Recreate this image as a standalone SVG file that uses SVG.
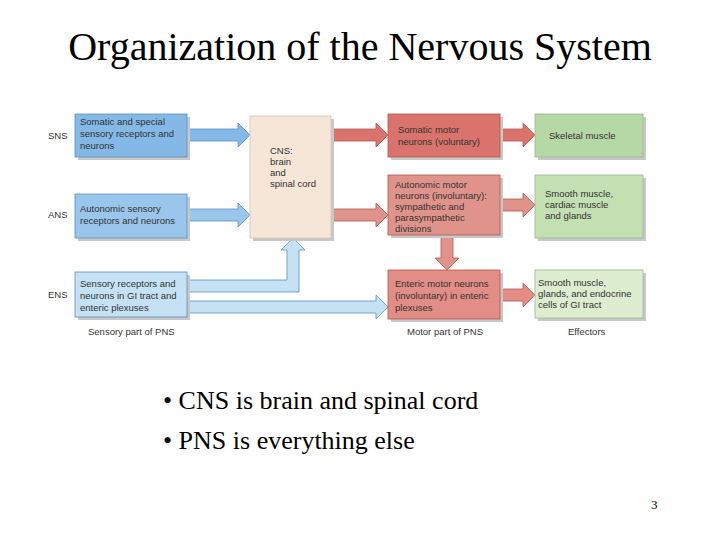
<svg xmlns="http://www.w3.org/2000/svg" width="720" height="540" viewBox="0 0 720 540">
<style>
.t{font-family:"Liberation Sans",Arial,sans-serif;font-size:9.5px;fill:#333}
.lbl{font-family:"Liberation Sans",Arial,sans-serif;font-size:9.5px;fill:#333}
.sh{fill:#c8c8c8}
.bl{stroke:#5b8fc0;stroke-width:0.8}
.rd{stroke:#b55550;stroke-width:0.8}
.gr{stroke:#9ab88a;stroke-width:0.8}
.big{font-family:"Liberation Serif","Times New Roman",serif;fill:#000}
</style>
<rect width="720" height="540" fill="#fff"/>
<text class="big" x="360" y="60" font-size="40" text-anchor="middle">Organization of the Nervous System</text>
<g id="connectors">
<polygon points="187,129 238,129 238,123 250,135 238,147 238,141 187,141" fill="#84b8e6" class="bl"/>
<polygon points="187,209 238,209 238,203 250,215 238,227 238,221 187,221" fill="#9ac6ec" class="bl"/>
<polygon points="187,280 287,280 287,250 281,250 293,238 305,250 299,250 299,292 187,292" fill="#c5e2f5" class="bl"/>
<polygon points="187,301 376,301 376,295 388,307 376,319 376,313 187,313" fill="#c5e2f5" class="bl"/>
<polygon points="331,129 376,129 376,123 388,135 376,147 376,141 331,141" fill="#d9736b" class="rd"/>
<polygon points="331,209 376,209 376,203 388,215 376,227 376,221 331,221" fill="#e0938b" class="rd"/>
<polygon points="500,129 523,129 523,123 535,135 523,147 523,141 500,141" fill="#d9736b" class="rd"/>
<polygon points="500,199 523,199 523,193 535,205 523,217 523,211 500,211" fill="#e0938b" class="rd"/>
<polygon points="500,289 523,289 523,283 535,295 523,307 523,301 500,301" fill="#e28d86" class="rd"/>
<polygon points="441,235 453,235 453,258 459,258 447,270 435,258 441,258" fill="#e0938b" class="rd"/>
</g>
<g id="labels">
<text class="lbl" x="48" y="139">SNS</text>
<text class="lbl" x="48" y="218">ANS</text>
<text class="lbl" x="48" y="298">ENS</text>
<text class="lbl" x="88" y="335">Sensory part of PNS</text>
<text class="lbl" x="407" y="335">Motor part of PNS</text>
<text class="lbl" x="568" y="335">Effectors</text>
</g>
<g id="sns">
<rect x="78" y="117" width="112" height="43" class="sh"/>
<rect x="75" y="114" width="112" height="43" fill="#84b8e6" class="bl"/>
<text class="t" x="80" y="125">Somatic and special</text>
<text class="t" x="80" y="137">sensory receptors and</text>
<text class="t" x="80" y="149">neurons</text>
</g>
<g id="ans">
<rect x="78" y="197" width="112" height="44" class="sh"/>
<rect x="75" y="194" width="112" height="44" fill="#9ac6ec" class="bl"/>
<text class="t" x="80" y="212">Autonomic sensory</text>
<text class="t" x="80" y="224">receptors and neurons</text>
</g>
<g id="ens">
<rect x="78" y="275" width="112" height="45" class="sh"/>
<rect x="75" y="272" width="112" height="45" fill="#c5e2f5" class="bl"/>
<text class="t" x="80" y="287">Sensory receptors and</text>
<text class="t" x="80" y="299">neurons in GI tract and</text>
<text class="t" x="80" y="311">enteric plexuses</text>
</g>
<g id="cns">
<rect x="253" y="119" width="81" height="122" class="sh"/>
<rect x="250" y="116" width="81" height="122" fill="#f6e6d8" stroke="#d8c4b0" stroke-width="0.8"/>
<text class="t" x="270" y="154">CNS:</text>
<text class="t" x="270" y="165">brain</text>
<text class="t" x="270" y="176">and</text>
<text class="t" x="270" y="187">spinal cord</text>
</g>
<g id="somatic">
<rect x="391" y="117" width="112" height="43" class="sh"/>
<rect x="388" y="114" width="112" height="43" fill="#d9736b" class="rd"/>
<text class="t" x="398" y="133">Somatic motor</text>
<text class="t" x="398" y="145">neurons (voluntary)</text>
</g>
<g id="autonomic">
<rect x="391" y="178" width="112" height="60" class="sh"/>
<rect x="388" y="175" width="112" height="60" fill="#e0938b" class="rd"/>
<text class="t" x="395" y="188">Autonomic motor</text>
<text class="t" x="395" y="199">neurons (involuntary):</text>
<text class="t" x="395" y="210">sympathetic and</text>
<text class="t" x="395" y="221">parasympathetic</text>
<text class="t" x="395" y="232">divisions</text>
</g>
<g id="enteric">
<rect x="391" y="273" width="112" height="49" class="sh"/>
<rect x="388" y="270" width="112" height="49" fill="#e28d86" class="rd"/>
<text class="t" x="395" y="287">Enteric motor neurons</text>
<text class="t" x="395" y="299">(involuntary) in enteric</text>
<text class="t" x="395" y="311">plexuses</text>
</g>
<g id="skeletal">
<rect x="538" y="117" width="108" height="43" class="sh"/>
<rect x="535" y="114" width="108" height="43" fill="#b6d8a4" class="gr"/>
<text class="t" x="549" y="139">Skeletal muscle</text>
</g>
<g id="smooth1">
<rect x="538" y="178" width="108" height="63" class="sh"/>
<rect x="535" y="175" width="108" height="63" fill="#c3e0b2" class="gr"/>
<text class="t" x="545" y="197">Smooth muscle,</text>
<text class="t" x="545" y="208">cardiac muscle</text>
<text class="t" x="545" y="219">and glands</text>
</g>
<g id="smooth2">
<rect x="538" y="273" width="108" height="48" class="sh"/>
<rect x="535" y="270" width="108" height="48" fill="#dcedd0" class="gr"/>
<text class="t" x="538" y="286">Smooth muscle,</text>
<text class="t" x="538" y="297">glands, and endocrine</text>
<text class="t" x="538" y="308">cells of GI tract</text>
</g>
<g id="bullets" class="big" font-size="26">
<text x="163" y="409">• CNS is brain and spinal cord</text>
<text x="163" y="449">• PNS is everything else</text>
</g>
<text x="651" y="509" font-family="Liberation Serif,serif" font-size="13">3</text>
</svg>
